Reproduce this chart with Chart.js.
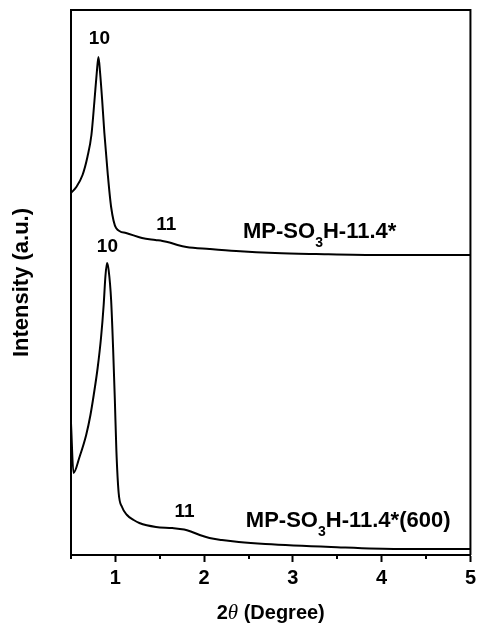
<!DOCTYPE html>
<html>
<head>
<meta charset="utf-8">
<script src="https://cdn.jsdelivr.net/npm/chart.js@4.4.1/dist/chart.umd.min.js"></script>
<style>
  html, body { margin: 0; padding: 0; background: #fff; }
  #wrap { width: 480px; height: 627px; }
</style>
</head>
<body>
<div id="wrap"><canvas id="xrdChart" width="480" height="627"></canvas></div>
<script>
// 2-theta positions and intensities (a.u.) for both patterns
var thetaTop = [0.5, 0.56, 0.63, 0.685, 0.73, 0.764, 0.79, 0.809, 0.828, 0.851, 0.876, 0.913, 0.952, 1.008, 1.12, 1.3, 1.45, 1.53, 1.61, 1.7, 1.8, 2.06, 2.36, 2.8, 3.26, 4.0, 5.0];
var intensityTop = [360, 366, 378, 396, 418, 452, 480, 496, 480, 453, 420, 380, 346, 325, 320, 315, 313, 312, 310.5, 308, 306, 304, 302, 300, 299, 298, 298];

var thetaBottom = [0.5, 0.528, 0.596, 0.671, 0.719, 0.756, 0.8, 0.839, 0.868, 0.888, 0.906, 0.924, 0.952, 0.975, 0.994, 1.011, 1.037, 1.075, 1.131, 1.206, 1.27, 1.457, 1.64, 1.775, 1.85, 1.95, 2.06, 2.2, 2.39, 2.69, 3.43, 4.19, 5.0];
var intensityBottom = [130, 80, 96, 118, 138, 158, 185, 216, 248, 277, 290, 283, 253, 203, 153, 103, 60, 46, 38, 33, 30, 26, 25, 23.5, 21.5, 18, 15, 13, 11, 9, 6, 4, 4];

var xTicks = [1, 2, 3, 4, 5];

// peak indices and sample names, placed in data coordinates
var peakText = ['10', '11', '10', '11'];
var peakAt = [[0.82, 514], [1.573, 328], [0.91, 306], [1.78, 41]];
var sampleSuffix = ['', '(600)'];
var sampleAt = [[2.438, 315], [2.47, 26]];

function toPoints(xs, ys) {
    return xs.map(function (x, i) { return { x: x, y: ys[i] }; });
}

var FONT = '"Liberation Sans", Arial, sans-serif';
Chart.defaults.font.family = FONT;
Chart.defaults.color = '#000';

var textPlugin = {
    id: 'xrdText',
    afterDraw: function (chart) {
        var ctx = chart.ctx;
        var xs = chart.scales.x, ys = chart.scales.y;
        var area = chart.chartArea;
        ctx.save();
        ctx.fillStyle = '#000';

        // top and right sides of the frame
        ctx.strokeStyle = '#000';
        ctx.lineWidth = 2;
        ctx.beginPath();
        ctx.moveTo(area.left, area.top);
        ctx.lineTo(area.right, area.top);
        ctx.lineTo(area.right, area.bottom);
        ctx.stroke();

        // minor ticks at half degrees
        for (var m = 0.5; m <= 5; m += 1) {
            var mx = Math.round(xs.getPixelForValue(m));
            ctx.beginPath();
            ctx.moveTo(mx, area.bottom);
            ctx.lineTo(mx, area.bottom + 4);
            ctx.stroke();
        }

        // peak labels
        ctx.font = 'bold 19px ' + FONT;
        ctx.textAlign = 'center';
        ctx.textBaseline = 'middle';
        peakText.forEach(function (t, i) {
            ctx.fillText(t, xs.getPixelForValue(peakAt[i][0]), ys.getPixelForValue(peakAt[i][1]));
        });

        // sample names with subscript 3
        ctx.textAlign = 'left';
        ctx.textBaseline = 'alphabetic';
        sampleAt.forEach(function (p, i) {
            var x = xs.getPixelForValue(p[0]);
            var y = ys.getPixelForValue(p[1]);
            ctx.font = 'bold 22px ' + FONT;
            ctx.fillText('MP-SO', x, y);
            x += ctx.measureText('MP-SO').width;
            ctx.font = 'bold 14px ' + FONT;
            ctx.fillText('3', x, y + 9);
            x += ctx.measureText('3').width;
            ctx.font = 'bold 22px ' + FONT;
            ctx.fillText('H-11.4*' + sampleSuffix[i], x, y);
        });

        // x axis title: 2θ (Degree), theta in italic
        var parts = [
            { t: '2', f: 'bold 20px ' + FONT },
            { t: '\u03b8', f: 'italic 21px "Liberation Serif", "Times New Roman", serif' },
            { t: ' (Degree)', f: 'bold 20px ' + FONT }
        ];
        var total = 0;
        parts.forEach(function (p) { ctx.font = p.f; p.w = ctx.measureText(p.t).width; total += p.w; });
        var tx = (area.left + area.right) / 2 - total / 2;
        var ty = 619;
        parts.forEach(function (p) {
            ctx.font = p.f;
            ctx.fillText(p.t, tx, ty);
            tx += p.w;
        });
        ctx.restore();
    }
};

var lineStyle = {
    borderColor: '#000',
    borderWidth: 2,
    pointRadius: 0,
    fill: false,
    cubicInterpolationMode: 'monotone'
};

new Chart(document.getElementById('xrdChart').getContext('2d'), {
    type: 'line',
    data: {
        datasets: [
            Object.assign({ label: 'MP-SO3H-11.4*', data: toPoints(thetaTop, intensityTop) }, lineStyle),
            Object.assign({ label: 'MP-SO3H-11.4*(600)', data: toPoints(thetaBottom, intensityBottom) }, lineStyle)
        ]
    },
    options: {
        responsive: false,
        animation: false,
        layout: { padding: { top: 10, right: 8, left: 0, bottom: 0 } },
        plugins: { legend: { display: false }, tooltip: { enabled: false } },
        scales: {
            x: {
                type: 'linear',
                min: 0.5,
                max: 5,
                afterBuildTicks: function (scale) {
                    scale.ticks = xTicks.map(function (v) { return { value: v }; });
                },
                afterFit: function (scale) { scale.height = 72; },
                ticks: {
                    font: { size: 20, weight: 'bold' },
                    padding: 4,
                    maxRotation: 0,
                    callback: function (v) { return String(v); }
                },
                grid: { display: true, drawOnChartArea: false, tickLength: 7, tickWidth: 2, tickColor: '#000' },
                border: { display: true, color: '#000', width: 2 }
            },
            y: {
                min: -2,
                max: 543,
                afterFit: function (scale) { scale.width = 71; },
                ticks: { display: false },
                grid: { display: false },
                border: { display: true, color: '#000', width: 2 },
                title: {
                    display: true,
                    text: 'Intensity (a.u.)',
                    font: { size: 22, weight: 'bold' },
                    padding: { top: 9, bottom: 0 }
                }
            }
        }
    },
    plugins: [textPlugin]
});
</script>
</body>
</html>
